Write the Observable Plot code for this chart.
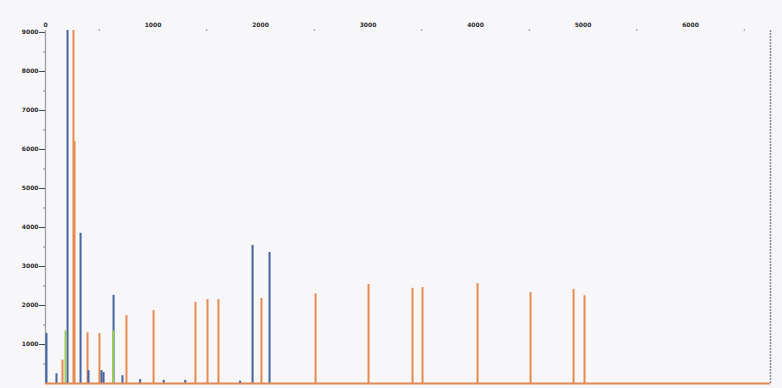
<!DOCTYPE html>
<html>
<head>
<meta charset="utf-8">
<script src="https://cdn.jsdelivr.net/npm/d3@7"></script>
<script src="https://cdn.jsdelivr.net/npm/@observablehq/plot@0.6"></script>
<style>
  html, body { margin: 0; padding: 0; background: #f7f7f9; }
  #chart { width: 782px; height: 388px; overflow: hidden; }
</style>
</head>
<body>
<div id="chart"></div>
<script>
// Tick labels
const xTicks = [0, 1000, 2000, 3000, 4000, 5000, 6000];
const xMinor = [500, 1500, 2500, 3500, 4500, 5500, 6500];
const yTicks = [1000, 2000, 3000, 4000, 5000, 6000, 7000, 8000, 9000];
const yMinor = [500, 1500, 2500, 3500, 4500, 5500, 6500, 7500, 8500];

// Dye channels
const dyes = ["FAM", "LIZ", "VIC"];

// FAM (blue) peaks
const famPos = [9, 102, 205, 326, 400, 521, 540, 633, 716, 880, 1100, 1300, 1810, 1926, 2084];
const famVal = [1280, 250, 9200, 3850, 330, 330, 280, 2260, 200, 100, 80, 80, 60, 3540, 3360];

// LIZ (orange) size-standard peaks
const lizPos = [158, 260, 270, 391, 502, 753, 1005, 1395, 1507, 1609, 2009, 2512, 3005, 3414, 3507, 4019, 4512, 4912, 5014];
const lizVal = [600, 9200, 6200, 1300, 1280, 1740, 1870, 2080, 2150, 2150, 2180, 2300, 2540, 2440, 2460, 2560, 2330, 2410, 2250];

// VIC (green) peaks
const vicPos = [186, 628];
const vicVal = [1350, 1350];

const xMax = 6744;
const yMax = 9050;

const peaks = [
  ...lizPos.map((p, i) => ({pos: p, val: lizVal[i], dye: "LIZ"})),
  ...famPos.map((p, i) => ({pos: p, val: famVal[i], dye: "FAM"})),
  ...vicPos.map((p, i) => ({pos: p, val: vicVal[i], dye: "VIC"}))
];

const chart = Plot.plot({
  width: 782,
  height: 388,
  marginLeft: 45,
  marginRight: 12,
  marginTop: 30,
  marginBottom: 5,
  style: {background: "#f7f7f9", fontFamily: "DejaVu Sans, sans-serif"},
  x: {domain: [0, xMax], axis: null, label: null},
  y: {domain: [0, yMax], axis: null, label: null},
  color: {domain: dyes, range: ["#4463a3", "#e78a4f", "#9ccb5c"]},
  marks: [
    // left axis
    Plot.ruleX([0], {stroke: "#9a9aa2", strokeWidth: 1.2}),
    Plot.axisY(yTicks, {anchor: "left", label: null, tickSize: 6, tickPadding: 1, fontSize: 6, fontWeight: 700, fill: "#2a2a2a", stroke: "#444", tickFormat: d => String(d)}),
    Plot.axisY(yMinor, {anchor: "left", label: null, tickSize: 2, tickFormat: () => "", stroke: "#888"}),
    // top axis
    Plot.axisX(xTicks, {anchor: "top", label: null, tickSize: 0, tickPadding: 4, fontSize: 6, fontWeight: 700, fill: "#2a2a2a", tickFormat: d => String(d)}),
    Plot.axisX(xMinor, {anchor: "top", label: null, tickSize: 2, tickPadding: 0, tickFormat: () => "", stroke: "#999"}),
    // right border
    Plot.ruleX([xMax], {y1: 0, y2: yMax, stroke: "#8a8a92", strokeWidth: 1.5, strokeDasharray: "2,1"}),
    // peaks
    Plot.ruleX(peaks, {x: "pos", y1: 0, y2: "val", stroke: "dye", strokeWidth: 2, clip: true}),
    // baseline
    Plot.ruleY([0], {stroke: "#df8a55", strokeWidth: 2})
  ]
});

document.getElementById("chart").appendChild(chart);
</script>
</body>
</html>
